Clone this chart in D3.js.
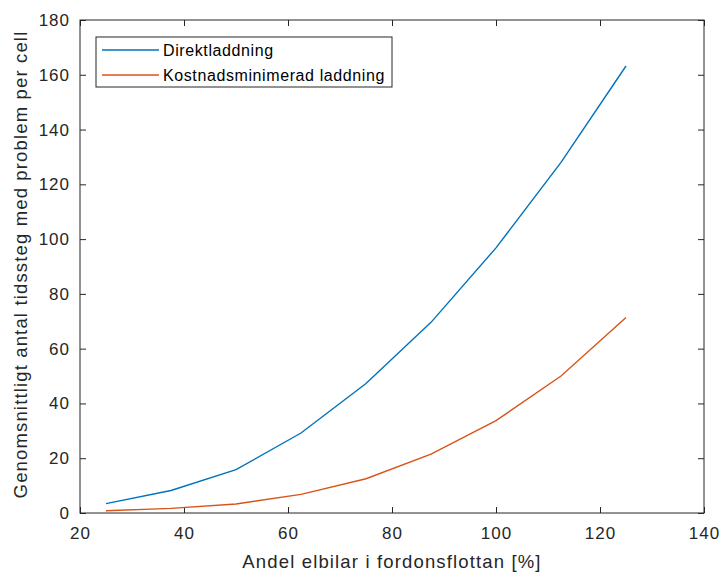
<!DOCTYPE html>
<html>
<head>
<meta charset="utf-8">
<script src="https://cdn.jsdelivr.net/npm/d3@7"></script>
<style>
  html, body { margin: 0; padding: 0; background: #fff; }
  svg { display: block; font-family: "Liberation Sans", Arial, sans-serif; }
</style>
</head>
<body>
<svg id="chart" width="722" height="573"></svg>
<script>
// Share of EVs in the fleet [%]
const shares = [25, 37.5, 50, 62.5, 75, 87.5, 100, 112.5, 125];
// Average number of problem time steps per cell
const direct = [3.4, 8.2, 15.8, 29.2, 47.3, 69.6, 96.8, 128, 163.2];
const costMin = [0.8, 1.7, 3.3, 6.8, 12.5, 21.5, 33.7, 50, 71.4];

const xTicks = [20, 40, 60, 80, 100, 120, 140];
const yTicks = [0, 20, 40, 60, 80, 100, 120, 140, 160, 180];

const seriesNames = ["Direktladdning", "Kostnadsminimerad laddning"];
const seriesColors = ["#0072BD", "#D95319"];

const xLabel = "Andel elbilar i fordonsflottan [%]";
const yLabel = "Genomsnittligt antal tidssteg med problem per cell";

const svg = d3.select("#chart");
const m = { left: 80, right: 704, top: 20, bottom: 513 };
const axisColor = "#262626";

const x = d3.scaleLinear().domain([20, 140]).range([m.left, m.right]);
const y = d3.scaleLinear().domain([0, 180]).range([m.bottom, m.top]);

// Box around the axes
svg.append("rect")
  .attr("x", m.left).attr("y", m.top)
  .attr("width", m.right - m.left).attr("height", m.bottom - m.top)
  .attr("fill", "none").attr("stroke", axisColor).attr("stroke-width", 1);

function styleAxis(g) {
  g.select(".domain").remove();
  g.selectAll(".tick line").attr("stroke", axisColor);
  g.selectAll(".tick text")
    .attr("fill", axisColor)
    .style("font-size", "17px")
    .style("letter-spacing", "1px");
}

const tickLen = 6;
svg.append("g")
  .attr("transform", `translate(0,${m.bottom})`)
  .call(d3.axisBottom(x).tickValues(xTicks).tickSize(-tickLen).tickPadding(14).tickFormat(d3.format("d")))
  .call(styleAxis);
svg.append("g")
  .attr("transform", `translate(0,${m.top})`)
  .call(d3.axisTop(x).tickValues(xTicks).tickSize(-tickLen).tickFormat(""))
  .call(styleAxis);
svg.append("g")
  .attr("transform", `translate(${m.left},0)`)
  .call(d3.axisLeft(y).tickValues(yTicks).tickSize(-tickLen).tickPadding(10).tickFormat(d3.format("d")))
  .call(styleAxis);
svg.append("g")
  .attr("transform", `translate(${m.right},0)`)
  .call(d3.axisRight(y).tickValues(yTicks).tickSize(-tickLen).tickFormat(""))
  .call(styleAxis);

// Axis titles
svg.append("text")
  .attr("x", (m.left + m.right) / 2).attr("y", 568)
  .attr("text-anchor", "middle")
  .attr("fill", axisColor)
  .style("font-size", "18.5px")
  .style("letter-spacing", "1.15px")
  .text(xLabel);
svg.append("text")
  .attr("transform", `translate(27,${(m.top + m.bottom) / 2 - 2}) rotate(-90)`)
  .attr("text-anchor", "middle")
  .attr("fill", axisColor)
  .style("font-size", "18.5px")
  .style("letter-spacing", "1.15px")
  .text(yLabel);

// Lines
const line = d3.line().x((d, i) => x(shares[i])).y(d => y(d));
[direct, costMin].forEach((vals, k) => {
  svg.append("path")
    .datum(vals)
    .attr("d", line)
    .attr("fill", "none")
    .attr("stroke", seriesColors[k])
    .attr("stroke-width", 1.4);
});

// Legend
const lg = svg.append("g");
lg.append("rect")
  .attr("x", 96).attr("y", 37).attr("width", 296).attr("height", 50)
  .attr("fill", "#fff").attr("stroke", axisColor).attr("stroke-width", 1);
seriesNames.forEach((name, k) => {
  const cy = 50 + k * 25;
  lg.append("line")
    .attr("x1", 102).attr("x2", 159).attr("y1", cy).attr("y2", cy)
    .attr("stroke", seriesColors[k]).attr("stroke-width", 1.4);
  lg.append("text")
    .attr("x", 163).attr("y", cy + 6)
    .attr("fill", "#000")
    .style("font-size", "16px")
    .style("letter-spacing", "0.6px")
    .text(name);
});
</script>
</body>
</html>
